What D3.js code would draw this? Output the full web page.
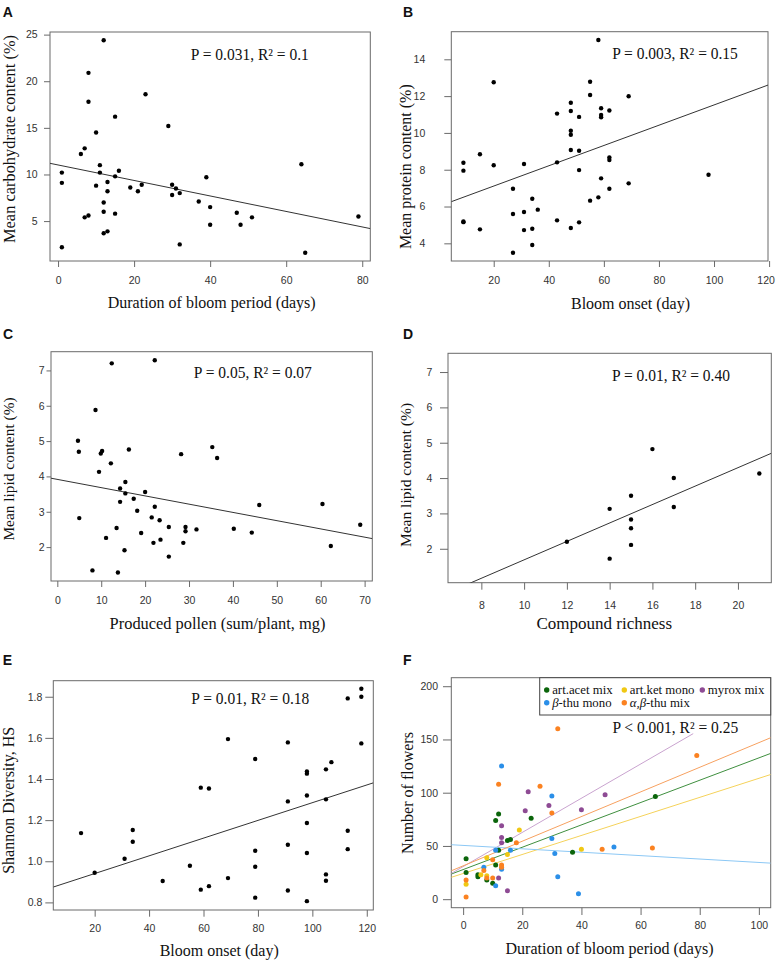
<!DOCTYPE html>
<html><head><meta charset="utf-8">
<script src="https://cdn.jsdelivr.net/npm/d3@7"></script>
<style>body{margin:0;background:#fff}svg{display:block}</style>
</head><body>
<script>
// ---------- DATA ----------
// Panel A: duration of bloom period (days) vs mean carbohydrate content (%)
const aDuration = [1,1,1,6,7,7,8,8,8,10,10,11,11,12,12,12,12,13,13,13,15,15,15,16,19,21,22,23,29,30,30,31,32,32,37,39,40,40,47,48,51,64,65,79];
const aCarb = [2.2,9.1,10.2,12.2,12.8,5.4,20.9,17.8,5.6,14.5,8.8,11.0,10.2,24.4,7.0,6.0,3.7,3.9,9.2,8.2,16.2,9.8,5.8,10.4,8.6,8.2,8.9,18.6,15.2,8.9,7.8,8.5,8.0,2.5,7.1,9.7,6.5,4.6,5.9,4.6,5.4,11.1,1.6,5.5];
const aFit = [11.02, -0.0831]; // intercept, slope

// Panel B: bloom onset (day) vs mean protein content (%)
const bOnset = [9,9,9,9,15,15,20,20,27,27,27,31,31,31,34,34,34,36,43,43,43,48,48,48,48,48,48,51,51,51,51,55,55,55,58,58,59,59,59,59,62,62,62,62,69,69,98];
const bProtein = [8.38,7.95,5.19,5.15,8.84,4.76,12.75,8.24,6.97,5.59,3.49,8.31,5.70,4.72,6.42,4.79,3.91,5.83,11.05,8.40,5.25,11.64,11.19,10.12,9.90,9.07,4.83,10.87,9.03,7.98,5.14,12.78,12.06,6.32,15.05,6.50,11.34,10.97,10.85,7.53,11.22,8.67,8.53,6.97,11.99,7.26,7.73];
const bFit = [6.01, 0.0551];

// Panel C: produced pollen (sum/plant, mg) vs mean lipid content (%)
const cPollen = [4.7,4.9,5.0,8.0,8.7,9.5,9.9,10.2,11.1,12.2,12.4,13.5,13.8,14.3,14.3,15.3,15.5,15.5,16.3,17.4,18.2,19.1,20.0,21.5,21.9,22.2,22.2,23.3,23.5,25.4,25.4,28.2,28.7,29.2,29.2,31.7,35.3,36.4,40.2,44.3,46.0,60.4,62.3,69.0];
const cLipid = [5.01,4.70,2.82,1.34,5.88,4.13,4.65,4.72,2.26,4.37,7.20,2.54,1.28,3.66,3.28,1.91,3.84,3.52,4.76,3.37,3.03,2.40,3.56,2.84,2.12,7.29,3.14,2.76,2.21,2.57,1.73,4.63,2.12,2.57,2.45,2.50,4.83,4.52,2.52,2.41,3.19,3.22,2.03,2.63];
const cFit = [3.916, -0.02336];

// Panel D: compound richness vs mean lipid content (%)
const dRichness = [12,14,14,15,15,15,15,16,17,17,21];
const dLipid = [2.20,3.13,1.72,3.50,2.83,2.58,2.11,4.82,4.00,3.18,4.13];
const dFit = [-0.92, 0.2607];

// Panel E: bloom onset (day) vs Shannon diversity
const eOnset = [15,20,31,34,34,45,55,59,59,62,62,69,69,79,79,79,79,91,91,91,91,98,98,98,98,98,98,105,105,105,105,107,113,113,113,118,118,118];
const eShannon = [1.137,0.944,1.012,1.152,1.095,0.904,0.978,1.358,0.862,1.354,0.879,1.594,0.918,1.497,1.051,0.973,0.823,1.578,1.291,1.080,0.858,1.437,1.426,1.320,1.186,1.040,0.806,1.447,1.301,0.936,0.905,1.482,1.792,1.148,1.059,1.839,1.800,1.573];
const eFit = [0.854, 0.004308];

// Panel F: duration of bloom period vs number of flowers, by chemotype
const fGroups = ["art.acet mix","art.ket mono","myrox mix","β-thu mono","α,β-thu mix"];
const fAcetX = [1,1,5,5,8,10,11,11,12,12,15,16,23,37,65];
const fAcetY = [38,25,23,21,18,15,32,74,80,46,55,56,76,44,96.5];
const fKetX = [1,6,8,8,15,19,40];
const fKetY = [14,23,22,39,42,65,47];
const fMyroxX = [12,13,13,13,15,21,22,29,40,48];
const fMyroxY = [20,69,58,53,8,83,101,88,84,98];
const fBthuX = [7,11,11,13,13,16,30,30,31,32,39,51];
const fBthuY = [30,12.5,46,125,28,46,97,57,43,21,5,49];
const fABthuX = [1,1,7,8,10,10,12,13,13,18,26,30,32,47,64,79];
const fABthuY = [2,18,27,20,37,20,108,32,30,53,106,81,160,47,48,135];
const fFits = [[27.8,1.049],[24.1,0.894],[30.6,1.605],[50.5,-0.16],[31.3,1.157]];
const fFitEnd = [null,null,77.8,null,null];

// ---------- DRAW ----------
const SERIF = "'Liberation Serif','Times New Roman',serif";
const SANS = "'Liberation Sans',Arial,sans-serif";
const svg = d3.select("body").append("svg").attr("width",776).attr("height",963);

function zip(xs, ys){ return xs.map((v,i)=>[v, ys[i]]); }

function drawPanel(p){
  const g = svg.append("g");
  const x = d3.scaleLinear().domain(p.xDom).range([p.box.l, p.box.r]);
  const y = d3.scaleLinear().domain(p.yDom).range([p.box.b, p.box.t]);
  const cid = "clip" + p.letter;
  svg.append("defs").append("clipPath").attr("id", cid).append("rect")
    .attr("x", p.box.l).attr("y", p.box.t).attr("width", p.box.r - p.box.l).attr("height", p.box.b - p.box.t);

  const xa = g.append("g").attr("transform", `translate(0,${p.box.b})`)
    .call(d3.axisBottom(x).tickValues(p.xTicks).tickSize(p.xTick).tickPadding(p.xPad).tickSizeOuter(0));
  const ya = g.append("g").attr("transform", `translate(${p.box.l},0)`)
    .call(d3.axisLeft(y).tickValues(p.yTicks).tickFormat(p.yFmt || d3.format("d")).tickSize(p.yTick).tickPadding(p.yPad).tickSizeOuter(0));
  [xa, ya].forEach(a => {
    a.select(".domain").remove();
    a.attr("color", "#6a6a6a");
    a.selectAll("text").attr("fill", "#333").style("font-family", SANS).style("font-size", "10.5px");
  });
  // keep the last x tick label inside the page
  xa.selectAll("text").each(function(){
    const bb = this.getBBox(), m = this.parentNode.getCTM();
    const right = bb.x + bb.width + (m ? m.e : 0);
    if (right > 775) d3.select(this).attr("dx", (775 - right) + "px");
  });

  g.append("rect").attr("x", p.box.l).attr("y", p.box.t)
    .attr("width", p.box.r - p.box.l).attr("height", p.box.b - p.box.t)
    .attr("fill", "none").attr("stroke", "#6a6a6a").attr("stroke-width", 1);

  const lines = g.append("g").attr("clip-path", `url(#${cid})`);
  p.fits.forEach(f => {
    const x0 = p.xDom[0], x1 = f.end != null ? f.end : p.xDom[1];
    lines.append("line")
      .attr("x1", x(x0)).attr("y1", y(f.c[0] + f.c[1]*x0))
      .attr("x2", x(x1)).attr("y2", y(f.c[0] + f.c[1]*x1))
      .attr("stroke", f.color).attr("stroke-width", 1);
  });

  p.series.forEach(s => {
    g.append("g").selectAll("circle").data(s.pts).join("circle")
      .attr("cx", d => x(d[0])).attr("cy", d => y(d[1]))
      .attr("r", s.r).attr("fill", s.color);
  });

  g.append("text").attr("transform", `translate(${p.ann.x},${p.ann.y}) scale(1,1.07)`).attr("text-anchor", "middle")
    .style("font-family", SERIF).style("font-size", "15.5px").attr("fill", "#111").text(p.ann.t);

  g.append("text").attr("x", p.lab.x).attr("y", p.lab.y)
    .style("font-family", SANS).style("font-weight", "bold").style("font-size", "14px").attr("fill", "#111").text(p.letter);

  g.append("text").attr("x", p.xt.x).attr("y", p.xt.y).attr("text-anchor", "middle")
    .style("font-family", SERIF).style("font-size", p.xt.s + "px").attr("fill", "#111").text(p.xt.t);

  g.append("text").attr("transform", `translate(${p.yt.x},${p.yt.y}) rotate(-90)`).attr("text-anchor", "middle")
    .style("font-family", SERIF).style("font-size", p.yt.s + "px").attr("fill", "#111").text(p.yt.t);
  return {g, x, y};
}

const BLK = "#000";
drawPanel({
  letter:"A", box:{l:50,r:370.3,t:32,b:261}, xDom:[-2.12,82.12], yDom:[0.72,25.28],
  xTicks:[0,20,40,60,80], yTicks:[5,10,15,20,25], xTick:6, xPad:9.3, yTick:6, yPad:6.3,
  fits:[{c:aFit,color:"#333"}], series:[{pts:zip(aDuration,aCarb), r:2.2, color:BLK}],
  ann:{t:"P = 0.031, R² = 0.1", x:249.8, y:60}, lab:{x:2.7,y:17.3},
  xt:{t:"Duration of bloom period (days)", x:211.7, y:308, s:16},
  yt:{t:"Mean carbohydrate content (%)", x:14.8, y:139, s:16.4}
});
drawPanel({
  letter:"B", box:{l:451.3,r:768,t:31.7,b:261}, xDom:[4.6,119.6], yDom:[3.04,15.5],
  xTicks:[20,40,60,80,100,120], yTicks:[4,6,8,10,12,14], xTick:6, xPad:10, yTick:7, yPad:19,
  fits:[{c:bFit,color:"#333"}], series:[{pts:zip(bOnset,bProtein), r:2.2, color:BLK}],
  ann:{t:"P = 0.003, R² = 0.15", x:675, y:59}, lab:{x:403,y:17.3},
  xt:{t:"Bloom onset (day)", x:630.5, y:308.5, s:16},
  yt:{t:"Mean protein content (%)", x:410.5, y:166.7, s:16}
});
drawPanel({
  letter:"C", box:{l:51,r:372.3,t:351.7,b:581}, xDom:[-1.44,71.75], yDom:[1.04,7.53],
  xTicks:[0,10,20,30,40,50,60,70], yTicks:[2,3,4,5,6,7], xTick:6, xPad:9.3, yTick:4.5, yPad:2,
  fits:[{c:cFit,color:"#333"}], series:[{pts:zip(cPollen,cLipid), r:2.2, color:BLK}],
  ann:{t:"P = 0.05, R² = 0.07", x:252.8, y:378.3}, lab:{x:3,y:339.3},
  xt:{t:"Produced pollen (sum/plant, mg)", x:217.5, y:629, s:16.4},
  yt:{t:"Mean lipid content (%)", x:13.8, y:469, s:15.4}
});
drawPanel({
  letter:"D", box:{l:448,r:771.3,t:353.3,b:582.7}, xDom:[6.44,21.56], yDom:[1.04,7.53],
  xTicks:[8,10,12,14,16,18,20], yTicks:[2,3,4,5,6,7], xTick:7, xPad:11.6, yTick:8, yPad:7.7,
  fits:[{c:dFit,color:"#333"}], series:[{pts:zip(dRichness,dLipid), r:2.2, color:BLK}],
  ann:{t:"P = 0.01, R² = 0.40", x:671, y:380.7}, lab:{x:403,y:339.3},
  xt:{t:"Compound richness", x:604.3, y:629, s:17},
  yt:{t:"Mean lipid content (%)", x:410.5, y:475, s:15.5}
});
drawPanel({
  letter:"E", box:{l:53.3,r:373.3,t:680.7,b:910}, xDom:[4.8,122.4], yDom:[0.763,1.878],
  xTicks:[20,40,60,80,100,120], yTicks:[0.8,1.0,1.2,1.4,1.6,1.8], yFmt:d3.format(".1f"),
  xTick:6.7, xPad:8, yTick:8, yPad:3,
  fits:[{c:eFit,color:"#333"}], series:[{pts:zip(eOnset,eShannon), r:2.2, color:BLK}],
  ann:{t:"P = 0.01, R² = 0.18", x:250.3, y:704}, lab:{x:2.7,y:665},
  xt:{t:"Bloom onset (day)", x:219.2, y:956, s:16},
  yt:{t:"Shannon Diversity, HS", x:14.2, y:800.3, s:16}
});

const fPtCols = ["#0b650b","#f0c814","#8e4b94","#2b8fe8","#fb8221"];
const fLineCols = ["#3f8f3f","#f5d25a","#c9a3cf","#8cc8f5","#f7a160"];
const fXs = [fAcetX,fKetX,fMyroxX,fBthuX,fABthuX];
const fYs = [fAcetY,fKetY,fMyroxY,fBthuY,fABthuY];
drawPanel({
  letter:"F", box:{l:451.3,r:770.7,t:677.7,b:907.7}, xDom:[-4,104], yDom:[-8,208],
  xTicks:[0,20,40,60,80,100], yTicks:[0,50,100,150,200], xTick:7.3, xPad:6.3, yTick:8.3, yPad:5,
  fits:fFits.map((c,i)=>({c, color:fLineCols[i], end:fFitEnd[i]})),
  series:fXs.map((xs,i)=>({pts:zip(xs,fYs[i]), r:2.5, color:fPtCols[i]})),
  ann:{t:"P < 0.001, R² = 0.25", x:675.3, y:733.3}, lab:{x:403,y:665},
  xt:{t:"Duration of bloom period (days)", x:609.5, y:954, s:16},
  yt:{t:"Number of flowers", x:413, y:793, s:16}
});

// legend
const lg = svg.append("g");
lg.append("rect").attr("x",539.7).attr("y",677.7).attr("width",770.7-539.7).attr("height",715-677.7)
  .attr("fill","#fff").attr("stroke","#444").attr("stroke-width",1);
const legPos = [[546.7,690],[624.3,690],[702.3,690],[546.7,702.7],[624.3,702.7]];
fGroups.forEach((name,i)=>{
  const [lx,ly] = legPos[i];
  lg.append("circle").attr("cx",lx).attr("cy",ly).attr("r",2.7).attr("fill",fPtCols[i]);
  const t = lg.append("text").attr("x",lx+5.5).attr("y",ly+4.2)
    .style("font-family",SERIF).style("font-size","12.8px").attr("fill","#111");
  if (name.startsWith("β")) {
    t.append("tspan").style("font-style","italic").text("β");
    t.append("tspan").text(name.slice(1));
  } else if (name.startsWith("α")) {
    t.append("tspan").style("font-style","italic").text("α,β");
    t.append("tspan").text(name.slice(3));
  } else t.text(name);
});
</script>
</body></html>
